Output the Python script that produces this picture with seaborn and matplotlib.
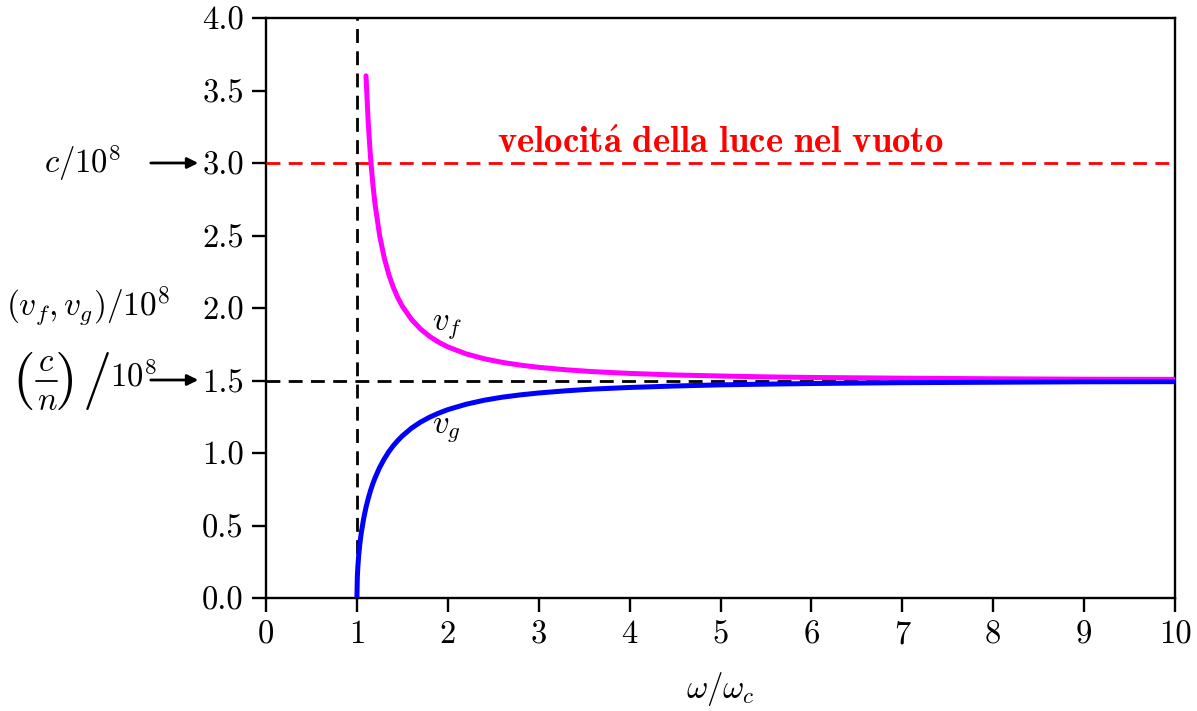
import numpy as np
import pandas as pd
import matplotlib
matplotlib.use("Agg")
import matplotlib.pyplot as plt
import seaborn as sns

# --- data ---
omega_g = [1.0, 1.005, 1.01, 1.02, 1.035, 1.05, 1.075, 1.1, 1.125, 1.15, 1.175, 1.2, 1.25, 1.3, 1.35,
           1.4, 1.45, 1.5, 1.6, 1.7, 1.8, 1.9, 2.0, 2.2, 2.4, 2.6, 2.8, 3.0, 3.3, 3.6, 4.0, 4.5, 5.0,
           5.5, 6.0, 7.0, 8.0, 9.0, 10.0]
v_g = [0.0, 0.149, 0.211, 0.296, 0.387, 0.457, 0.550, 0.625, 0.687, 0.741, 0.788, 0.829, 0.900, 0.958,
       1.008, 1.050, 1.086, 1.118, 1.171, 1.213, 1.247, 1.275, 1.299, 1.336, 1.364, 1.385, 1.401, 1.414,
       1.429, 1.441, 1.452, 1.462, 1.470, 1.475, 1.479, 1.485, 1.488, 1.491, 1.492]
omega_f = [1.1, 1.125, 1.15, 1.175, 1.2, 1.25, 1.3, 1.35, 1.4, 1.45, 1.5, 1.6, 1.7, 1.8, 1.9, 2.0,
           2.2, 2.4, 2.6, 2.8, 3.0, 3.3, 3.6, 4.0, 4.5, 5.0, 5.5, 6.0, 7.0, 8.0, 9.0, 10.0]
v_f = [3.601, 3.274, 3.038, 2.857, 2.714, 2.500, 2.348, 2.233, 2.143, 2.071, 2.012, 1.922, 1.855, 1.804,
       1.764, 1.732, 1.684, 1.650, 1.625, 1.606, 1.591, 1.574, 1.561, 1.549, 1.538, 1.531, 1.525, 1.521,
       1.516, 1.512, 1.509, 1.508]
c_level = 3.0
cn_level = 1.5
omega_cut = 1.0
x_ticks = [0, 1, 2, 3, 4, 5, 6, 7, 8, 9, 10]
y_ticks = [0.0, 0.5, 1.0, 1.5, 2.0, 2.5, 3.0, 3.5, 4.0]
y_tick_labels = ["0.0", "0.5", "1.0", "1.5", "2.0", "2.5", "3.0", "3.5", "4.0"]

sns.set_style("ticks")
plt.rcParams["font.family"] = ["cmr10"]
plt.rcParams["mathtext.fontset"] = "cm"
plt.rcParams["axes.formatter.use_mathtext"] = True
plt.rcParams["axes.unicode_minus"] = False
for k in ("text.color", "axes.labelcolor", "xtick.color", "ytick.color", "axes.edgecolor"):
    plt.rcParams[k] = "black"

FS = 23.5
W, H = 1197, 711
fig = plt.figure(figsize=(11.97, 7.11), dpi=100)
ax = fig.add_axes([266 / W, 1 - 598 / H, 909 / W, 580 / H])

df_f = pd.DataFrame({"w": omega_f, "v": v_f})
df_g = pd.DataFrame({"w": omega_g, "v": v_g})
sns.lineplot(data=df_f, x="w", y="v", ax=ax, color="#ff00ff", lw=3.6, sort=False, zorder=4,
             solid_capstyle="round")
sns.lineplot(data=df_g, x="w", y="v", ax=ax, color="#0000ff", lw=3.6, sort=False, zorder=4,
             solid_capstyle="round")

dash = (5, 3)
ax.axhline(c_level, color="#ff0000", lw=2.0, dashes=dash, zorder=3)
ax.axhline(cn_level, color="black", lw=2.0, dashes=dash, zorder=3)
ax.axvline(omega_cut, color="black", lw=2.0, dashes=dash, zorder=3)

ax.set_xlim(0, 10)
ax.set_ylim(0, 4)
ax.set_xticks(x_ticks)
ax.set_xticklabels([str(t) for t in x_ticks])
ax.set_yticks(y_ticks)
ax.set_yticklabels(y_tick_labels)
ax.tick_params(direction="out", length=10, width=1.7, labelsize=FS, pad=6)
for s in ax.spines.values():
    s.set_linewidth(1.7)
    s.set_visible(True)
ax.set_xlabel(r"$\omega/\omega_c$", fontsize=FS, labelpad=15)
ax.set_ylabel("")

ax.text(5.0, 3.07, r"$\mathbf{velocit\acute{a}\ della\ luce\ nel\ vuoto}$", color="#ff0000",
        fontsize=26.5, ha="center", va="baseline")
ax.text(1.83, 1.87, r"$v_f$", fontsize=FS, ha="left", va="center")
ax.text(1.83, 1.16, r"$v_g$", fontsize=FS, ha="left", va="center")

# left-hand annotations
fig.text(83 / W, 1 - 163 / H, r"$c/10^8$", fontsize=FS, ha="center", va="center")
fig.text(88 / W, 1 - 306 / H, r"$(v_f, v_g)/10^8$", fontsize=24, ha="center", va="center")
fig.text(24 / W, 1 - 381 / H, "(", fontsize=42, ha="center", va="center", family="cmr10")
fig.text(66 / W, 1 - 381 / H, ")", fontsize=42, ha="center", va="center", family="cmr10")
fig.text(46 / W, 1 - 371 / H, r"$c$", fontsize=FS, ha="center", va="baseline")
fig.text(47 / W, 1 - 410 / H, r"$n$", fontsize=FS, ha="center", va="baseline")
fig.add_artist(matplotlib.lines.Line2D([36 / W, 57 / W], [1 - 381 / H, 1 - 381 / H],
                                       transform=fig.transFigure, color="black", lw=1.3))
fig.text(97 / W, 1 - 381 / H, "/", fontsize=42, ha="center", va="center", family="cmr10")
fig.text(133 / W, 1 - 376 / H, r"$10^8$", fontsize=FS, ha="center", va="center")

for ypx in (163, 380):
    fig.patches.append(matplotlib.patches.FancyArrowPatch(
        (148 / W, 1 - ypx / H), (201 / W, 1 - ypx / H),
        transform=fig.transFigure, arrowstyle="-|>", mutation_scale=16, lw=2, color="black"))

fig.savefig("out.png", dpi=100)
